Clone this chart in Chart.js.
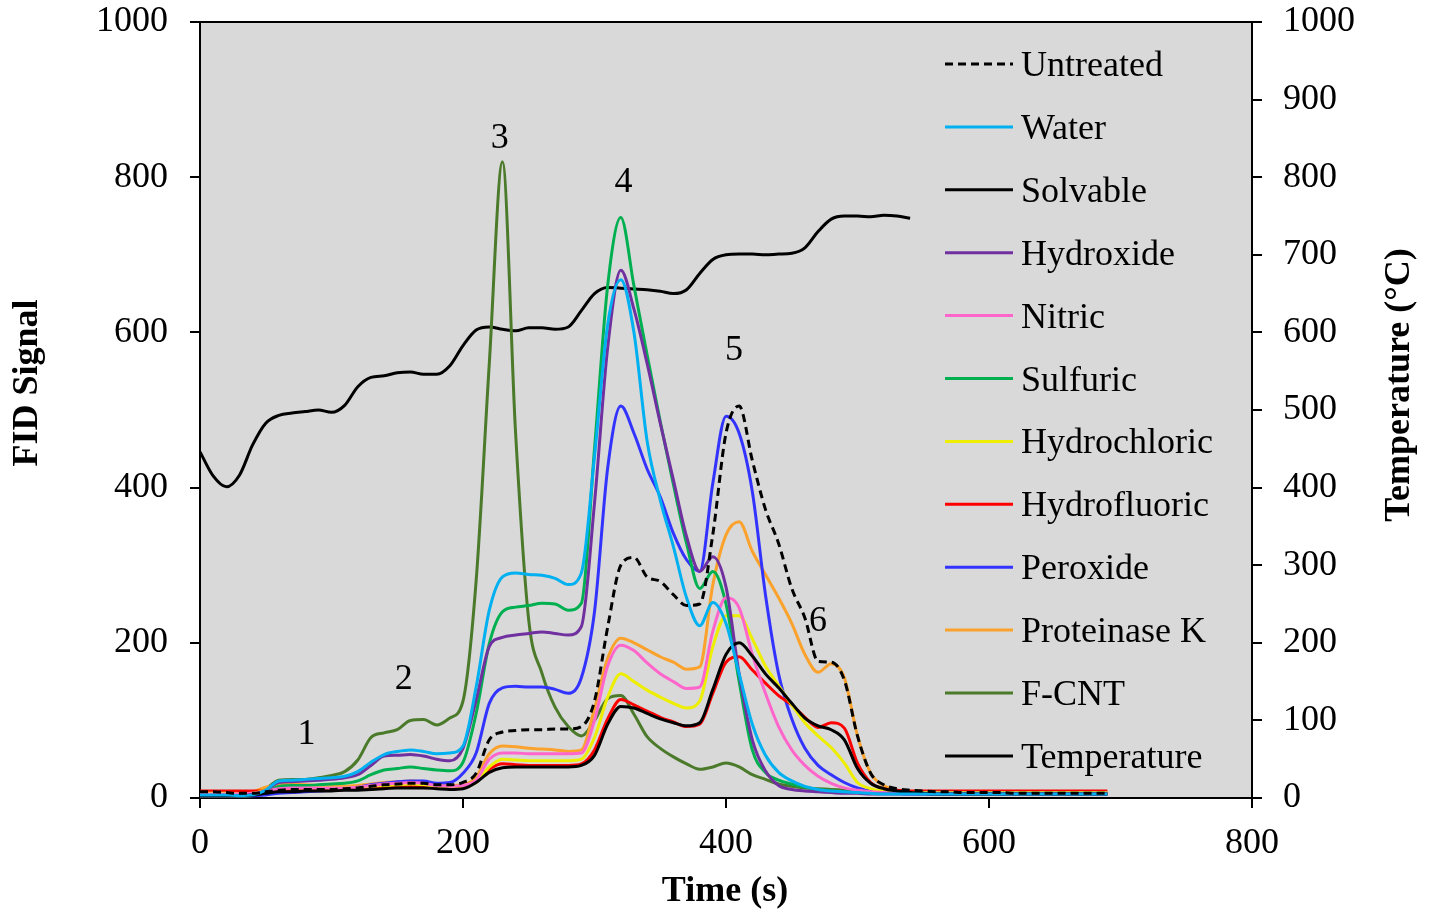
<!DOCTYPE html>
<html>
<head>
<meta charset="utf-8">
<script src="https://cdn.jsdelivr.net/npm/chart.js@4.4.1/dist/chart.umd.min.js"></script>
<style>
html,body{margin:0;padding:0;background:#fff;}
#wrap{width:1435px;height:912px;}
</style>
</head>
<body>
<div id="wrap"><canvas id="fid" width="1435" height="912"></canvas></div>
<script>
// time grid (s)
const times = [
  0,10,20,30,40,50,60,70,80,90,
  100,110,120,130,140,150,160,170,180,190,
  200,210,220,230,240,250,260,270,280,290,
  300,310,320,330,340,350,360,370,380,390,
  400,410,420,430,440,450,460,470,480,490,
  500,510,520,530,540,550,560,570,580,590,
  600,610,620,630,640,650,660,670,680,690
];

const untreated = [
  8,8,7,6,6,8,10,11,11,11,
  11,12,13,15,17,18,19,19,17,17,
  20,32,75,85,87,88,88,89,89,92,
  125,220,300,310,285,279,262,248,250,340,
  470,505,435,372,328,270,232,176,175,152,
  80,32,17,12,10,9,8,8,7,7,
  7,7,6,6,6,6,6,6,6,6
];
const water = [
  4,4,4,3,4,10,22,23,24,25,
  26,28,34,46,56,60,62,60,57,58,
  67,143,242,285,290,288,287,283,275,290,
  440,610,668,600,460,384,324,258,222,252,
  225,160,95,55,33,22,15,11,9,8,
  7,6,5,5,5,5,5,5,5,5,
  5,5,5,5,5,5,5,5,5,5
];
const solvable = [
  3,3,3,3,4,6,8,8,9,9,
  9,10,10,11,12,13,13,13,12,11,
  12,20,33,39,40,40,40,40,40,42,
  55,95,118,116,109,102,97,93,97,140,
  185,200,183,160,142,122,103,93,88,75,
  38,19,12,9,7,6,5,5,5,5,
  5,5,5,5,5,5,5,5,5,5
];
const hydroxide = [
  3,3,3,3,4,10,20,21,22,23,
  24,26,30,42,54,55,56,54,50,48,
  64,126,195,207,210,212,214,212,210,221,
  380,580,680,630,560,483,410,337,292,311,
  272,160,75,35,16,11,9,8,7,6,
  6,5,5,5,5,5,5,5,5,5,
  5,5,5,5,5,5,5,5,5,5
];
const nitric = [
  5,5,5,5,6,9,12,13,13,13,
  13,13,14,16,18,19,20,19,16,15,
  16,23,50,58,58,57,57,57,57,58,
  100,170,197,190,174,160,150,141,143,215,
  258,245,185,135,92,62,42,28,19,13,
  10,8,7,6,6,6,6,6,6,6,
  6,6,6,6,6,6,6,6,6,6
];
const sulfuric = [
  4,4,4,3,4,8,15,16,16,17,
  18,19,22,30,36,38,40,38,36,35,
  46,109,199,240,246,248,251,250,242,251,
  450,660,748,660,571,485,404,328,270,292,
  250,150,62,33,23,18,14,11,9,8,
  7,6,6,6,6,6,6,6,6,6,
  6,6,6,6,6,6,6,6,6,6
];
const hydrochloric = [
  6,6,6,5,6,10,13,13,13,13,
  13,13,14,15,16,17,18,17,15,14,
  15,20,40,50,49,48,48,48,48,50,
  78,130,160,150,139,130,122,116,125,195,
  235,235,205,170,145,120,97,80,65,45,
  20,12,9,8,7,7,7,7,7,7,
  7,7,7,7,7,7,7,7,7,7
];
const hydrofluoric = [
  9,9,9,9,9,9,10,10,10,10,
  10,11,11,12,13,14,15,14,13,12,
  13,22,37,44,43,42,42,42,42,44,
  62,102,127,120,112,104,98,92,95,135,
  175,182,165,148,132,120,104,91,97,90,
  45,20,12,10,9,9,9,9,9,9,
  9,9,9,9,9,9,9,9,9,9
];
const peroxide = [
  3,3,3,3,3,4,6,7,8,9,
  10,12,14,17,19,21,22,22,19,20,
  32,58,122,142,144,143,143,140,135,155,
  240,425,505,470,424,388,341,307,292,406,
  492,470,395,262,160,102,64,42,30,20,
  13,9,7,6,5,5,5,5,5,5,
  5,5,5,5,5,5,5,5,5,5
];
const proteinaseK = [
  8,8,7,6,8,14,17,18,17,16,
  15,15,16,18,20,21,22,21,18,16,
  17,27,57,67,66,64,63,62,60,62,
  115,180,206,200,191,182,175,166,169,275,
  339,356,318,288,258,225,185,162,173,155,
  80,32,16,10,8,7,7,7,7,7,
  7,7,7,7,7,7,7,7,7,7
];
const fcnt = [
  2,2,2,2,3,12,23,24,24,26,
  29,34,49,78,84,88,100,101,94,103,
  125,280,560,820,470,229,161,117,92,80,
  100,128,132,108,79,64,53,44,37,40,
  45,40,30,24,18,15,13,12,11,10,
  9,8,7,6,6,5,5,5,5,5,
  5,5,5,5,5,5,5,5,5,5
];
// temperature (°C), logged 0–540 s
const temperature = [
  446,415,401,416,455,483,493,496,498,500,
  497,506,530,542,544,548,549,546,546,557,
  583,603,607,604,602,606,606,604,607,628,
  650,658,657,656,655,653,650,655,676,694,
  700,701,701,700,701,702,709,730,746,750,
  750,749,751,750,747
];

const seriesNames = ['Untreated','Water','Solvable','Hydroxide','Nitric','Sulfuric',
  'Hydrochloric','Hydrofluoric','Peroxide','Proteinase K','F-CNT'];
const seriesValues = [untreated,water,solvable,hydroxide,nitric,sulfuric,
  hydrochloric,hydrofluoric,peroxide,proteinaseK,fcnt];
const seriesColors = ['#000000','#00b0f0','#000000','#7030a0','#ff66cc','#00b050',
  '#eeee00','#ff0000','#3333ff','#fba22c','#4a7a2a'];

// peak numbers
const peakNames = ['1','2','3','4','5','6'];
const peakTimes = [81,155,228,322,406,470];
const peakSignals = [82,153,850,793,577,228];

const FONT = "'Liberation Serif','Times New Roman',serif";
Chart.defaults.font.family = FONT;
Chart.defaults.color = '#000';

function pts(arr){ return arr.map((v,i)=>({x:times[i], y:v})); }

const datasets = seriesNames.map((n,i)=>({
  label:n, data:pts(seriesValues[i]), yAxisID:'y',
  borderColor:seriesColors[i], borderWidth:3,
  borderDash: n==='Untreated' ? [8,5] : [],
  pointRadius:0, cubicInterpolationMode:'monotone', fill:false
}));
datasets.push({
  label:'Temperature', data:pts(temperature), yAxisID:'y2',
  borderColor:'#000', borderWidth:3, borderDash:[],
  pointRadius:0, cubicInterpolationMode:'monotone', fill:false
});

const plotBg = {
  id:'plotBg',
  beforeDraw(chart){
    const {ctx, chartArea:a} = chart;
    ctx.save();
    ctx.fillStyle = '#d9d9d9';
    ctx.fillRect(a.left, a.top, a.right-a.left, a.bottom-a.top);
    ctx.restore();
  }
};

const extras = {
  id:'extras',
  afterDraw(chart){
    const {ctx, chartArea:a, scales} = chart;
    ctx.save();
    // top frame line
    ctx.strokeStyle = '#000'; ctx.lineWidth = 2;
    ctx.beginPath(); ctx.moveTo(a.left, a.top); ctx.lineTo(a.right, a.top); ctx.stroke();

    // peak numbers
    ctx.fillStyle = '#000';
    ctx.font = '36px '+FONT;
    ctx.textAlign = 'center'; ctx.textBaseline = 'middle';
    peakNames.forEach((p,i)=>{
      ctx.fillText(p, scales.x.getPixelForValue(peakTimes[i]), scales.y.getPixelForValue(peakSignals[i]));
    });

    // axis titles
    ctx.font = 'bold 36px '+FONT;
    ctx.fillText('Time (s)', 725, 892);
    ctx.save(); ctx.translate(28, 383); ctx.rotate(-Math.PI/2);
    ctx.fillText('FID Signal', 0, 0); ctx.restore();
    ctx.save(); ctx.translate(1400, 385); ctx.rotate(-Math.PI/2);
    ctx.fillText('Temperature (\u00B0C)', 0, 0); ctx.restore();

    // legend inside plot
    ctx.font = '36px '+FONT;
    ctx.textAlign = 'left'; ctx.textBaseline = 'alphabetic';
    chart.data.datasets.forEach((d,i)=>{
      const y = 64 + i*62.9;
      ctx.strokeStyle = d.borderColor; ctx.lineWidth = 3;
      ctx.setLineDash(d.borderDash || []);
      ctx.beginPath(); ctx.moveTo(945, y); ctx.lineTo(1013, y); ctx.stroke();
      ctx.setLineDash([]);
      ctx.fillStyle = '#000';
      ctx.fillText(d.label, 1021, y + 12);
    });
    ctx.restore();
  }
};

const tickFont = {size:36, family:FONT};
const plain = v => String(v);
function fixV(w){ return s => { s.width = w; s.paddingTop = 0; s.paddingBottom = 0; }; }
new Chart(document.getElementById('fid'), {
  type:'line',
  data:{datasets},
  options:{
    responsive:false, animation:false, devicePixelRatio:1,
    layout:{padding:{top:22, right:0, left:0, bottom:0}},
    plugins:{legend:{display:false}, tooltip:{enabled:false}},
    scales:{
      x:{type:'linear', min:0, max:800,
        ticks:{stepSize:200, font:tickFont, padding:14, color:'#000', maxRotation:0, callback:plain},
        grid:{drawOnChartArea:false, drawTicks:true, tickLength:10, color:'#000', lineWidth:2},
        border:{display:true, color:'#000', width:2},
        afterFit(s){ s.height = 114; s.paddingLeft = 0; s.paddingRight = 0; }
      },
      y:{type:'linear', position:'left', min:0, max:1000,
        ticks:{stepSize:200, font:tickFont, padding:22, color:'#000', callback:plain},
        grid:{drawOnChartArea:false, drawTicks:true, tickLength:10, color:'#000', lineWidth:2},
        border:{display:true, color:'#000', width:2},
        afterFit:fixV(200)
      },
      y2:{type:'linear', position:'right', min:0, max:1000,
        ticks:{stepSize:100, font:tickFont, padding:21, color:'#000', callback:plain},
        grid:{drawOnChartArea:false, drawTicks:true, tickLength:10, color:'#000', lineWidth:2},
        border:{display:true, color:'#000', width:2},
        afterFit:fixV(183)
      }
    }
  },
  plugins:[plotBg, extras]
});
</script>
</body>
</html>
